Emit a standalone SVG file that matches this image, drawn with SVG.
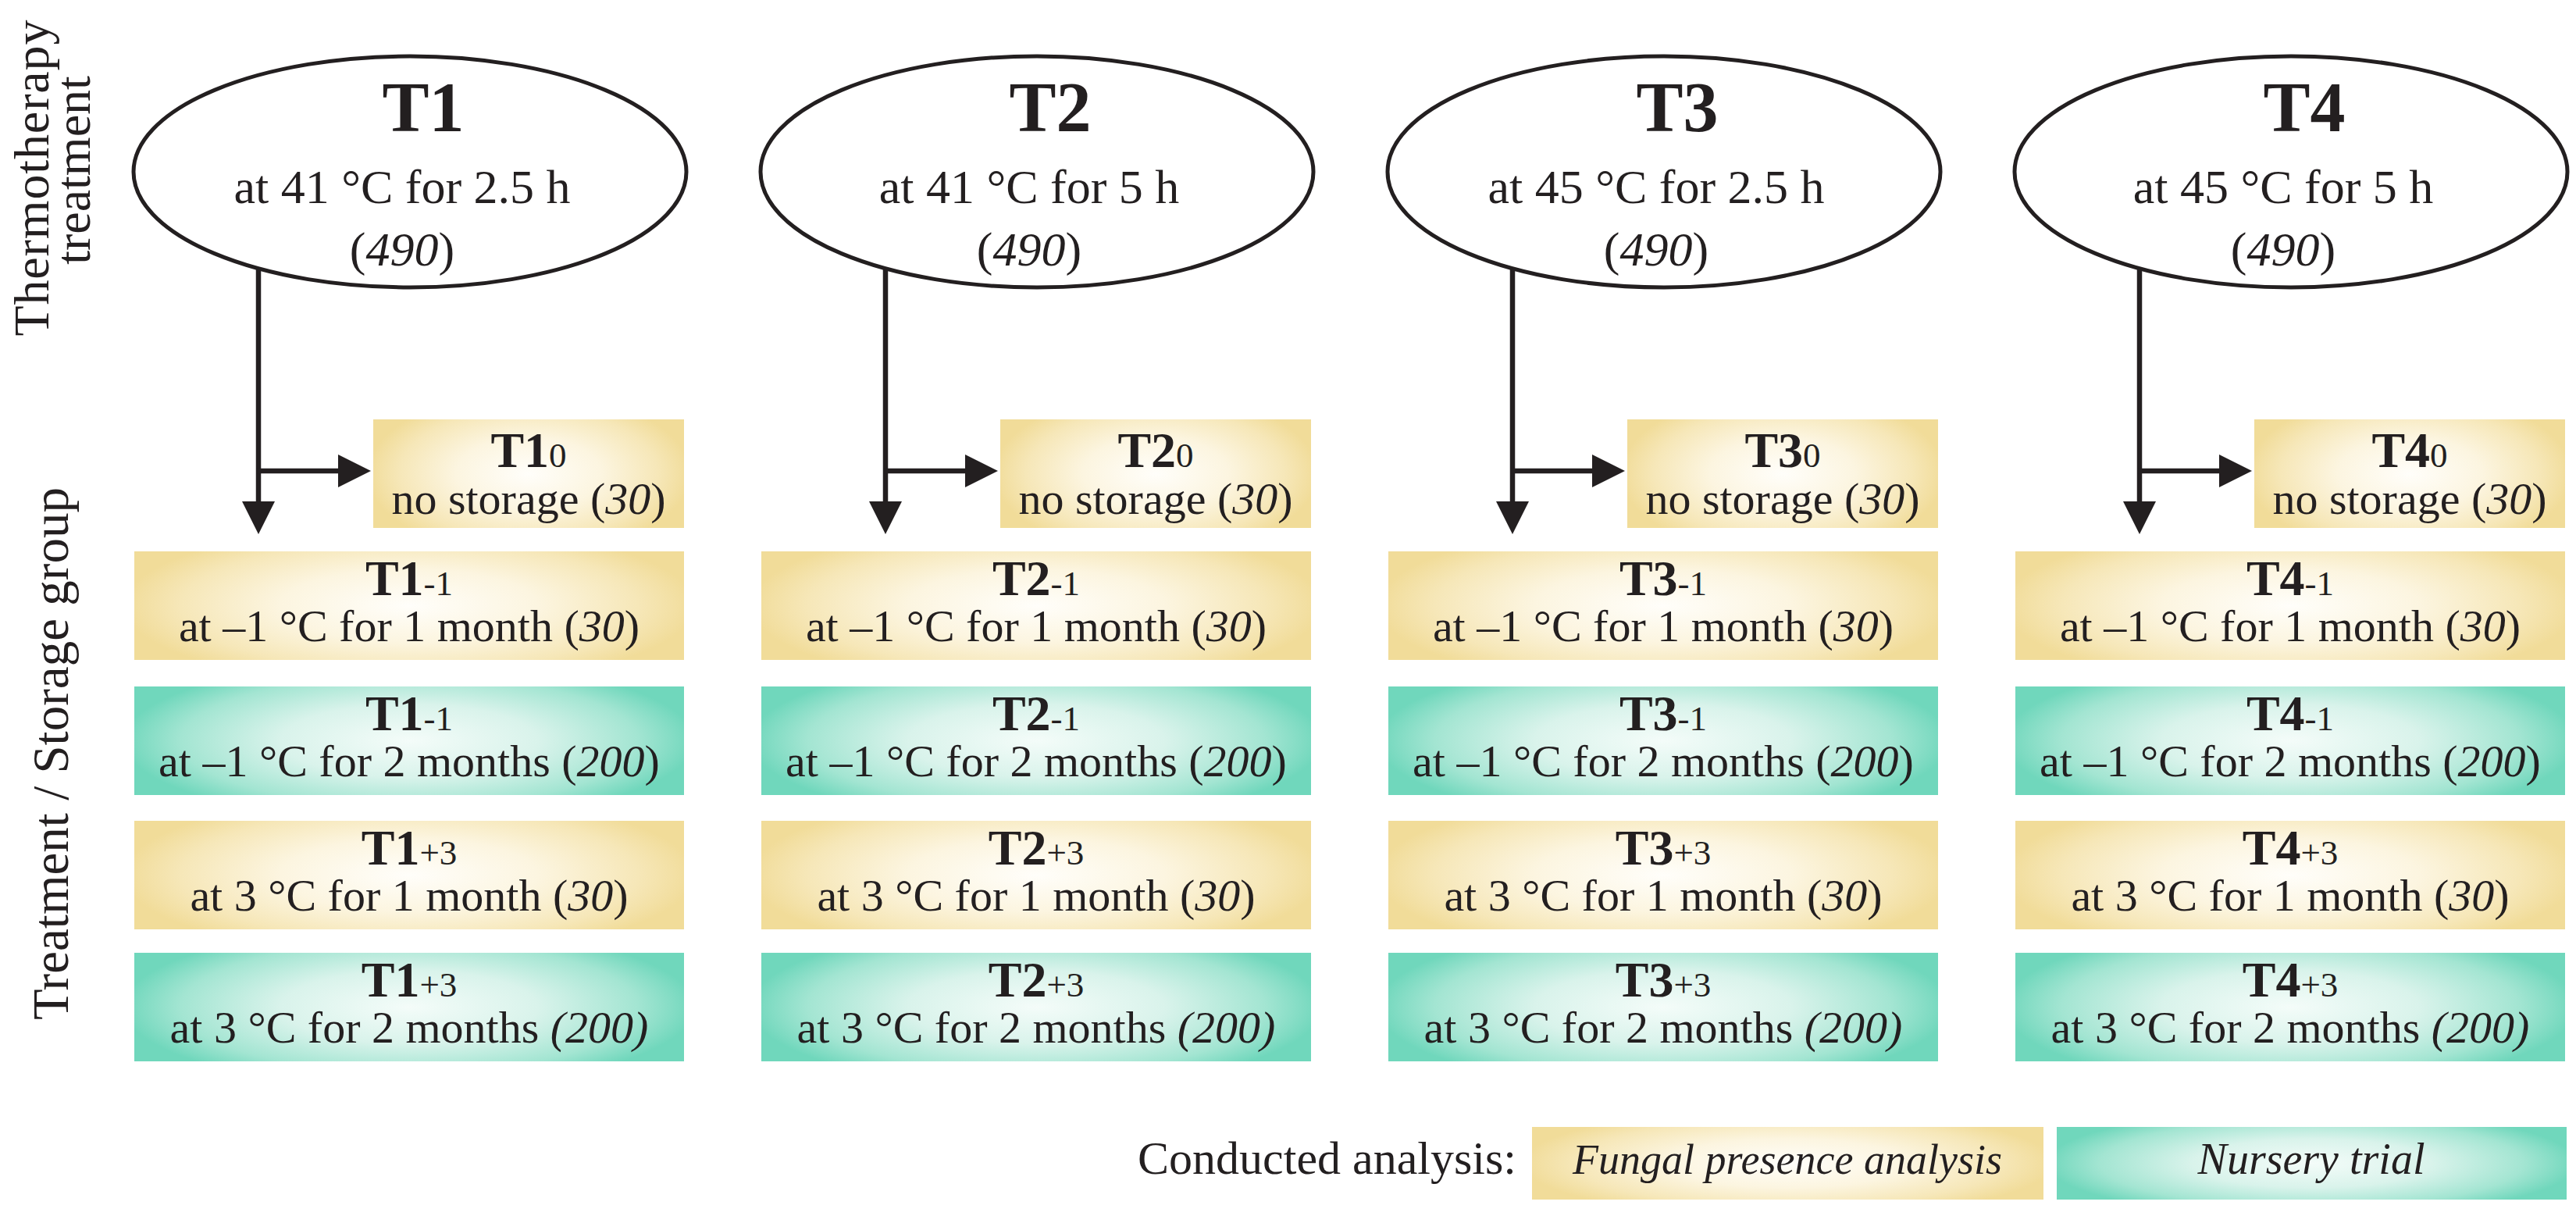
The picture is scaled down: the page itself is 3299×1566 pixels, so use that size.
<svg xmlns="http://www.w3.org/2000/svg" width="3299" height="1566" viewBox="0 0 3299 1566">
<defs>
<style>
.t{font-family:"Liberation Serif","Times New Roman",serif;fill:#231f20}
.ttl{font-size:90px;font-weight:bold;text-anchor:middle}
.sub{font-size:62px;text-anchor:middle}
.bt{font-size:64px;font-weight:bold;text-anchor:middle}
.bs{font-size:58px;text-anchor:middle}
.sm{font-size:45px;font-weight:normal}
.it{font-style:italic}
.lab{font-size:64px;text-anchor:middle}
.ell{fill:#fff;stroke:#231f20;stroke-width:5}
.y{fill:url(#gy)}
.g{fill:url(#gg)}
.con{fill:none;stroke:#231f20;stroke-width:6.5}
</style>
<radialGradient id="gy" cx="0.5" cy="0.5" r="0.5" gradientTransform="matrix(1.04 0 0 1.5 -0.02 -0.25)">
<stop offset="0" stop-color="#fffefa"/>
<stop offset="0.45" stop-color="#fcf5e0"/>
<stop offset="0.8" stop-color="#f6e7b8"/>
<stop offset="1" stop-color="#f1dc99"/>
</radialGradient>
<radialGradient id="gg" cx="0.5" cy="0.5" r="0.5" gradientTransform="matrix(1.04 0 0 1.5 -0.02 -0.25)">
<stop offset="0" stop-color="#f4fcf9"/>
<stop offset="0.45" stop-color="#d9f3eb"/>
<stop offset="0.8" stop-color="#a3e5d2"/>
<stop offset="1" stop-color="#70d7bc"/>
</radialGradient>
<marker id="ah" viewBox="0 0 42 42" refX="0" refY="21" markerWidth="42" markerHeight="42" markerUnits="userSpaceOnUse" orient="auto">
<path d="M0,0 L42,21 L0,42 Z" fill="#231f20"/>
</marker>
</defs>
<rect width="3299" height="1566" fill="#fff"/>

<g id="axis-labels" class="t">
<text class="lab" transform="translate(62,228) rotate(-90)" textLength="405" lengthAdjust="spacing">Thermotherapy</text>
<text class="lab" transform="translate(115,218) rotate(-90)">treatment</text>
<text class="lab" transform="translate(87,965) rotate(-90)" style="font-size:65px">Treatment / Storage group</text>
</g>

<!-- Column 1 -->
<g id="T1" class="t">
<ellipse class="ell" cx="525" cy="220" rx="354" ry="148"/>
<text class="ttl" x="542" y="168">T1</text>
<text class="sub" x="515" y="260">at 41 °C for 2.5 h</text>
<text class="sub" x="515" y="340">(<tspan class="it">490</tspan>)</text>
</g>
<g id="T1_0" class="t"><rect class="y" x="478" y="537" width="398" height="139"/>
<text class="bt" x="677" y="598">T1<tspan class="sm">0</tspan></text>
<text class="bs" x="677" y="658">no storage (<tspan class="it">30</tspan>)</text></g>
<g id="T1_m1a" class="t"><rect class="y" x="172" y="706" width="704" height="139"/>
<text class="bt" x="524" y="762">T1<tspan class="sm">-1</tspan></text>
<text class="bs" x="524" y="821">at –1 °C for 1 month (<tspan class="it">30</tspan>)</text></g>
<g id="T1_m1b" class="t"><rect class="g" x="172" y="879" width="704" height="139"/>
<text class="bt" x="524" y="935">T1<tspan class="sm">-1</tspan></text>
<text class="bs" x="524" y="994">at –1 °C for 2 months (<tspan class="it">200</tspan>)</text></g>
<g id="T1_p3a" class="t"><rect class="y" x="172" y="1051" width="704" height="139"/>
<text class="bt" x="524" y="1107">T1<tspan class="sm">+3</tspan></text>
<text class="bs" x="524" y="1166">at 3 °C for 1 month (<tspan class="it">30</tspan>)</text></g>
<g id="T1_p3b" class="t"><rect class="g" x="172" y="1220" width="704" height="139"/>
<text class="bt" x="524" y="1276">T1<tspan class="sm">+3</tspan></text>
<text class="bs" x="524" y="1335">at 3 °C for 2 months <tspan class="it">(200)</tspan></text></g>

<!-- Column 2 -->
<g id="T2" class="t">
<ellipse class="ell" cx="1328" cy="220" rx="354" ry="148"/>
<text class="ttl" x="1345" y="168">T2</text>
<text class="sub" x="1318" y="260">at 41 °C for 5 h</text>
<text class="sub" x="1318" y="340">(<tspan class="it">490</tspan>)</text>
</g>
<g id="T2_0" class="t"><rect class="y" x="1281" y="537" width="398" height="139"/>
<text class="bt" x="1480" y="598">T2<tspan class="sm">0</tspan></text>
<text class="bs" x="1480" y="658">no storage (<tspan class="it">30</tspan>)</text></g>
<g id="T2_m1a" class="t"><rect class="y" x="975" y="706" width="704" height="139"/>
<text class="bt" x="1327" y="762">T2<tspan class="sm">-1</tspan></text>
<text class="bs" x="1327" y="821">at –1 °C for 1 month (<tspan class="it">30</tspan>)</text></g>
<g id="T2_m1b" class="t"><rect class="g" x="975" y="879" width="704" height="139"/>
<text class="bt" x="1327" y="935">T2<tspan class="sm">-1</tspan></text>
<text class="bs" x="1327" y="994">at –1 °C for 2 months (<tspan class="it">200</tspan>)</text></g>
<g id="T2_p3a" class="t"><rect class="y" x="975" y="1051" width="704" height="139"/>
<text class="bt" x="1327" y="1107">T2<tspan class="sm">+3</tspan></text>
<text class="bs" x="1327" y="1166">at 3 °C for 1 month (<tspan class="it">30</tspan>)</text></g>
<g id="T2_p3b" class="t"><rect class="g" x="975" y="1220" width="704" height="139"/>
<text class="bt" x="1327" y="1276">T2<tspan class="sm">+3</tspan></text>
<text class="bs" x="1327" y="1335">at 3 °C for 2 months <tspan class="it">(200)</tspan></text></g>

<!-- Column 3 -->
<g id="T3" class="t">
<ellipse class="ell" cx="2131" cy="220" rx="354" ry="148"/>
<text class="ttl" x="2148" y="168">T3</text>
<text class="sub" x="2121" y="260">at 45 °C for 2.5 h</text>
<text class="sub" x="2121" y="340">(<tspan class="it">490</tspan>)</text>
</g>
<g id="T3_0" class="t"><rect class="y" x="2084" y="537" width="398" height="139"/>
<text class="bt" x="2283" y="598">T3<tspan class="sm">0</tspan></text>
<text class="bs" x="2283" y="658">no storage (<tspan class="it">30</tspan>)</text></g>
<g id="T3_m1a" class="t"><rect class="y" x="1778" y="706" width="704" height="139"/>
<text class="bt" x="2130" y="762">T3<tspan class="sm">-1</tspan></text>
<text class="bs" x="2130" y="821">at –1 °C for 1 month (<tspan class="it">30</tspan>)</text></g>
<g id="T3_m1b" class="t"><rect class="g" x="1778" y="879" width="704" height="139"/>
<text class="bt" x="2130" y="935">T3<tspan class="sm">-1</tspan></text>
<text class="bs" x="2130" y="994">at –1 °C for 2 months (<tspan class="it">200</tspan>)</text></g>
<g id="T3_p3a" class="t"><rect class="y" x="1778" y="1051" width="704" height="139"/>
<text class="bt" x="2130" y="1107">T3<tspan class="sm">+3</tspan></text>
<text class="bs" x="2130" y="1166">at 3 °C for 1 month (<tspan class="it">30</tspan>)</text></g>
<g id="T3_p3b" class="t"><rect class="g" x="1778" y="1220" width="704" height="139"/>
<text class="bt" x="2130" y="1276">T3<tspan class="sm">+3</tspan></text>
<text class="bs" x="2130" y="1335">at 3 °C for 2 months <tspan class="it">(200)</tspan></text></g>

<!-- Column 4 -->
<g id="T4" class="t">
<ellipse class="ell" cx="2934" cy="220" rx="354" ry="148"/>
<text class="ttl" x="2951" y="168">T4</text>
<text class="sub" x="2924" y="260">at 45 °C for 5 h</text>
<text class="sub" x="2924" y="340">(<tspan class="it">490</tspan>)</text>
</g>
<g id="T4_0" class="t"><rect class="y" x="2887" y="537" width="398" height="139"/>
<text class="bt" x="3086" y="598">T4<tspan class="sm">0</tspan></text>
<text class="bs" x="3086" y="658">no storage (<tspan class="it">30</tspan>)</text></g>
<g id="T4_m1a" class="t"><rect class="y" x="2581" y="706" width="704" height="139"/>
<text class="bt" x="2933" y="762">T4<tspan class="sm">-1</tspan></text>
<text class="bs" x="2933" y="821">at –1 °C for 1 month (<tspan class="it">30</tspan>)</text></g>
<g id="T4_m1b" class="t"><rect class="g" x="2581" y="879" width="704" height="139"/>
<text class="bt" x="2933" y="935">T4<tspan class="sm">-1</tspan></text>
<text class="bs" x="2933" y="994">at –1 °C for 2 months (<tspan class="it">200</tspan>)</text></g>
<g id="T4_p3a" class="t"><rect class="y" x="2581" y="1051" width="704" height="139"/>
<text class="bt" x="2933" y="1107">T4<tspan class="sm">+3</tspan></text>
<text class="bs" x="2933" y="1166">at 3 °C for 1 month (<tspan class="it">30</tspan>)</text></g>
<g id="T4_p3b" class="t"><rect class="g" x="2581" y="1220" width="704" height="139"/>
<text class="bt" x="2933" y="1276">T4<tspan class="sm">+3</tspan></text>
<text class="bs" x="2933" y="1335">at 3 °C for 2 months <tspan class="it">(200)</tspan></text></g>

<g id="connectors" class="con">
<path d="M331,344 V642" marker-end="url(#ah)"/>
<path d="M328,603 H433" marker-end="url(#ah)"/>
<path d="M1134,344 V642" marker-end="url(#ah)"/>
<path d="M1131,603 H1236" marker-end="url(#ah)"/>
<path d="M1937,344 V642" marker-end="url(#ah)"/>
<path d="M1934,603 H2039" marker-end="url(#ah)"/>
<path d="M2740,344 V642" marker-end="url(#ah)"/>
<path d="M2737,603 H2842" marker-end="url(#ah)"/>
</g>

<g id="legend" class="t">
<text x="1942" y="1503" style="font-size:60px;text-anchor:end">Conducted analysis:</text>
<g id="legend-fungal"><rect class="y" x="1962" y="1443" width="655" height="93"/>
<text class="it" x="2289" y="1503" style="font-size:54px;text-anchor:middle">Fungal presence analysis</text></g>
<g id="legend-nursery"><rect class="g" x="2634" y="1443" width="653" height="93"/>
<text class="it" x="2960" y="1503" style="font-size:56px;text-anchor:middle">Nursery trial</text></g>
</g>
</svg>
